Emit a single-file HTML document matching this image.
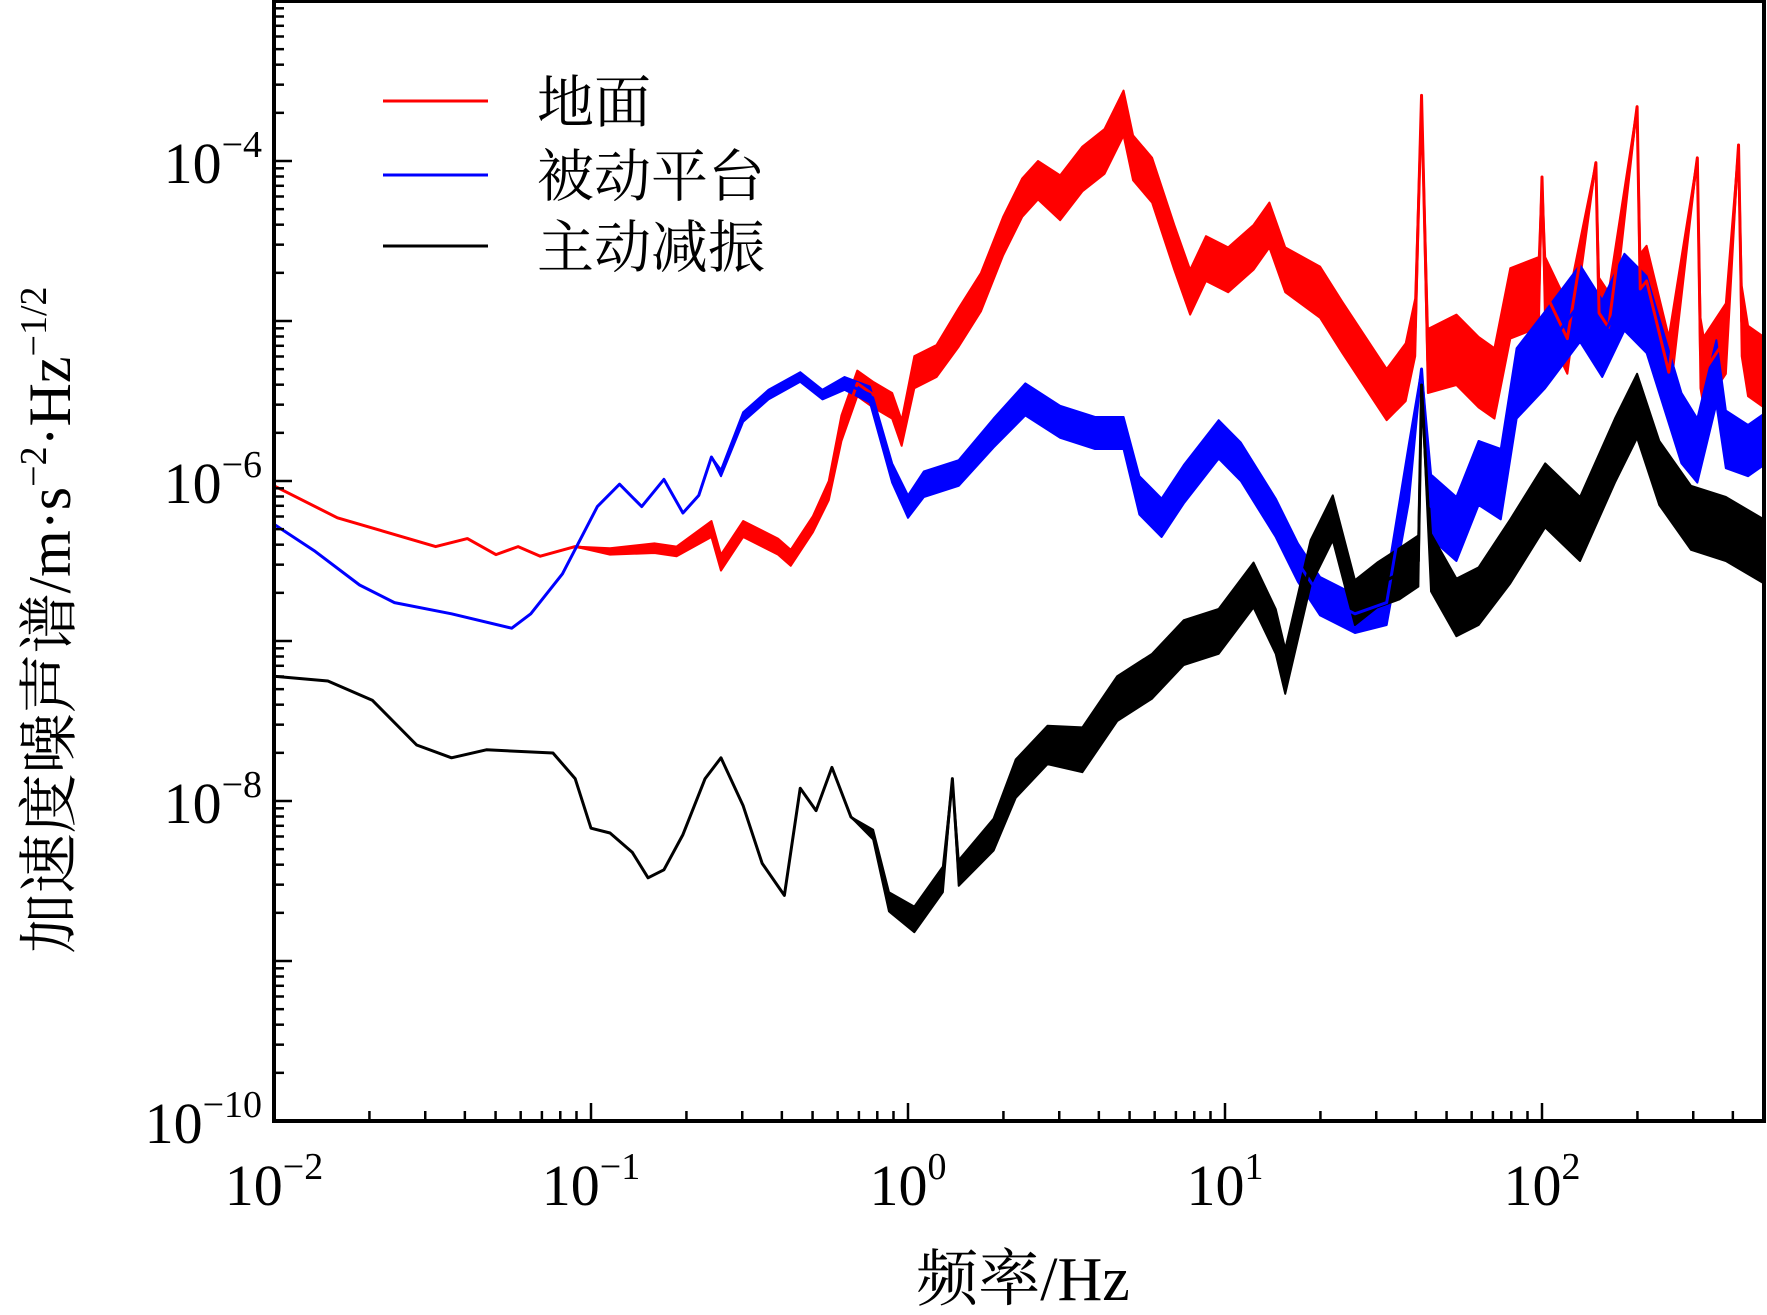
<!DOCTYPE html>
<html><head><meta charset="utf-8"><style>
html,body{margin:0;padding:0;background:#fff;}
svg{display:block;}
text{font-family:"Liberation Serif","Noto Serif CJK SC",serif;fill:#000;}
</style></head><body>
<svg id="chart" width="1767" height="1315" viewBox="0 0 1767 1315" xmlns="http://www.w3.org/2000/svg">
<g id="bands"></g>
<g id="lines"></g>
<g id="axes"></g>
<g id="legend">
  <line x1="383" y1="101" x2="488" y2="101" stroke="#ff0000" stroke-width="3"/>
  <text x="537" y="122" font-size="57">地面</text>
  <line x1="383" y1="175" x2="488" y2="175" stroke="#0000ff" stroke-width="3"/>
  <text x="537" y="196" font-size="57">被动平台</text>
  <line x1="383" y1="246" x2="488" y2="246" stroke="#000" stroke-width="3"/>
  <text x="537" y="267" font-size="57">主动减振</text>
</g>
<text x="1023" y="1300" font-size="62" text-anchor="middle">频率/Hz</text>
<text transform="translate(70,620) rotate(-90)" font-size="60" text-anchor="middle">加速度噪声谱/m·s<tspan font-size="38" dy="-24">−2</tspan><tspan dy="24">·Hz</tspan><tspan font-size="38" dy="-24">−1/2</tspan></text>
</svg>
<script>
// log10 frequency and log10 value arrays
const groundF = [-2,-1.80,-1.49,-1.39,-1.30,-1.23,-1.16,-1.05,-0.94,-0.80,-0.73,-0.62,-0.59,-0.52,-0.41,-0.37,-0.30,-0.25,-0.21,-0.16,-0.11,-0.05,-0.02,0.02,0.09,0.16,0.23,0.30,0.36,0.41,0.48,0.55,0.62,0.68,0.71,0.77,0.84,0.89,0.94,1.01,1.09,1.14,1.19,1.30,1.37,1.44,1.51,1.57,1.60,1.62,1.64,1.73,1.80,1.85,1.90,1.99,2.00,2.01,2.08,2.17,2.18,2.21,2.30,2.31,2.33,2.40,2.49,2.50,2.51,2.58,2.62,2.63,2.65,2.70];
const groundV = [-6.03,-6.23,-6.41,-6.36,-6.46,-6.41,-6.47,-6.41,-6.44,-6.42,-6.44,-6.30,-6.51,-6.30,-6.41,-6.48,-6.27,-6.06,-5.67,-5.39,-5.46,-5.53,-5.70,-5.32,-5.25,-5.04,-4.82,-4.47,-4.23,-4.12,-4.23,-4.05,-3.94,-3.70,-3.98,-4.12,-4.54,-4.82,-4.61,-4.68,-4.54,-4.40,-4.68,-4.82,-5.04,-5.25,-5.46,-5.32,-5.04,-3.59,-5.25,-5.18,-5.32,-5.39,-4.89,-4.82,-4.10,-4.82,-5.11,-4.01,-4.95,-5.04,-3.66,-4.80,-4.75,-5.32,-3.98,-5.20,-5.32,-5.11,-3.90,-5.00,-5.25,-5.32];
const groundBand = [0,0,0,0,0,0,0,0,0.02,0.03,0.03,0.05,0.05,0.05,0.05,0.05,0.05,0.06,0.08,0.08,0.08,0.08,0.08,0.1,0.1,0.12,0.12,0.12,0.12,0.12,0.14,0.14,0.14,0.14,0.14,0.14,0.14,0.14,0.14,0.14,0.14,0.14,0.14,0.16,0.16,0.16,0.16,0.18,0.18,0,0.2,0.22,0.22,0.22,0.22,0.22,0,0.22,0.22,0,0.22,0.22,0,0.22,0.22,0.22,0,0.22,0.22,0.22,0,0.22,0.22,0.22];
const passiveF = [-2,-1.87,-1.73,-1.62,-1.44,-1.25,-1.19,-1.09,-0.98,-0.91,-0.84,-0.77,-0.71,-0.66,-0.62,-0.59,-0.52,-0.44,-0.34,-0.27,-0.20,-0.12,-0.05,0.00,0.05,0.16,0.27,0.37,0.48,0.59,0.68,0.73,0.80,0.87,0.98,1.05,1.16,1.23,1.30,1.41,1.51,1.58,1.62,1.65,1.73,1.80,1.87,1.92,2.01,2.12,2.19,2.26,2.33,2.44,2.49,2.55,2.58,2.65,2.70];
const passiveV = [-6.27,-6.44,-6.65,-6.76,-6.83,-6.92,-6.83,-6.58,-6.16,-6.02,-6.16,-5.99,-6.20,-6.09,-5.85,-5.95,-5.60,-5.46,-5.35,-5.46,-5.39,-5.46,-5.95,-6.16,-6.02,-5.95,-5.70,-5.49,-5.63,-5.70,-5.70,-6.09,-6.23,-6.02,-5.74,-5.88,-6.23,-6.51,-6.72,-6.83,-6.76,-5.95,-5.30,-6.16,-6.30,-5.95,-6.02,-5.39,-5.18,-4.89,-5.11,-4.82,-4.96,-5.67,-5.81,-5.32,-5.74,-5.81,-5.74];
const passiveBand = [0,0,0,0,0,0,0,0,0,0,0,0,0,0,0,0.02,0.03,0.03,0.03,0.03,0.04,0.05,0.06,0.07,0.08,0.08,0.09,0.1,0.1,0.1,0.1,0.12,0.12,0.12,0.12,0.12,0.12,0.12,0.12,0.12,0.14,0.18,0,0.2,0.2,0.2,0.22,0.22,0.24,0.24,0.24,0.24,0.24,0.22,0.2,0.2,0.18,0.16,0.16];
const activeF = [-2,-1.83,-1.69,-1.55,-1.44,-1.33,-1.12,-1.05,-1.00,-0.94,-0.87,-0.82,-0.77,-0.71,-0.64,-0.59,-0.52,-0.46,-0.39,-0.34,-0.29,-0.24,-0.18,-0.11,-0.06,0.02,0.11,0.14,0.16,0.27,0.34,0.44,0.55,0.66,0.77,0.87,0.98,1.09,1.16,1.19,1.27,1.34,1.41,1.48,1.55,1.61,1.62,1.65,1.73,1.80,1.90,2.01,2.12,2.23,2.30,2.37,2.47,2.58,2.70];
const activeV = [-7.22,-7.25,-7.37,-7.65,-7.73,-7.68,-7.70,-7.86,-8.17,-8.20,-8.32,-8.48,-8.43,-8.21,-7.86,-7.73,-8.03,-8.39,-8.59,-7.92,-8.06,-7.79,-8.10,-8.21,-8.63,-8.74,-8.49,-7.86,-8.45,-8.21,-7.86,-7.65,-7.68,-7.36,-7.22,-7.01,-6.94,-6.65,-6.94,-7.19,-6.51,-6.23,-6.76,-6.65,-6.58,-6.50,-5.40,-6.51,-6.79,-6.72,-6.44,-6.09,-6.30,-5.81,-5.53,-5.95,-6.23,-6.30,-6.44];
const activeBand = [0,0,0,0,0,0,0,0,0,0,0,0,0,0,0,0,0,0,0,0,0,0,0,0.03,0.06,0.08,0.08,0,0.08,0.1,0.12,0.12,0.14,0.14,0.14,0.14,0.14,0.14,0.14,0.14,0.14,0.14,0.14,0.14,0.16,0.16,0,0.18,0.18,0.18,0.2,0.2,0.2,0.2,0.2,0.2,0.2,0.2,0.2];
const xTickExp = [-2,-1,0,1,2];
const xTickSup = ["−2","−1","0","1","2"];
const yTickExp = [-4,-6,-8,-10];
const yTickSup = ["−4","−6","−8","−10"];

const X0=274, X1=1764, Y0=1, Y1=1121;
function xs(lf){return 274+(lf+2)*317;}
function ys(lv){return 161+(-4-lv)*160;}
const NS="http://www.w3.org/2000/svg";
function mk(tag,attrs,parent){const e=document.createElementNS(NS,tag);for(const k in attrs)e.setAttribute(k,attrs[k]);parent.appendChild(e);return e;}

const bands=document.getElementById('bands'), lines=document.getElementById('lines'), axes=document.getElementById('axes');
function series(F,V,B,color,name){
  let up=[],lo=[];
  for(let i=0;i<F.length;i++){up.push(xs(F[i])+','+ys(V[i]+B[i]));lo.unshift(xs(F[i])+','+ys(V[i]-B[i]));}
  const poly=mk('polygon',{points:up.concat(lo).join(' '),fill:color,stroke:color,'stroke-width':2,'stroke-linejoin':'round'},bands);
  
  
  const pts=F.map((f,i)=>xs(f)+','+ys(V[i])).join(' ');
  const pl=mk('polyline',{points:pts,fill:'none',stroke:color,'stroke-width':3,'stroke-linejoin':'round'},lines);
  
  
}
series(groundF,groundV,groundBand,'#ff0000','ground');
series(passiveF,passiveV,passiveBand,'#0000ff','passive-platform');
series(activeF,activeV,activeBand,'#000000','active-isolation');

const fr=mk('rect',{x:X0,y:Y0,width:X1-X0,height:Y1-Y0,fill:'none',stroke:'#000','stroke-width':4},axes);


for(let d=-2;d<=2;d++){for(let m=1;m<=9;m++){const lf=d+Math.log10(m);const x=xs(lf);if(x>X1)continue;
  const t=mk('line',{x1:x,y1:Y1,x2:x,y2:Y1-(m===1?18:10),stroke:'#000','stroke-width':2.5},axes);
  
  }}
xTickExp.forEach((e,i)=>{const t=mk('text',{x:xs(e),y:1205,'font-size':58,'text-anchor':'middle'},axes);
  t.innerHTML="10<tspan font-size='38' dy='-26'>"+xTickSup[i]+"</tspan>";
  
  });
for(let d=-10;d<=-4;d++){for(let m=1;m<=9;m++){const lv=d+Math.log10(m);const y=ys(lv);if(y<Y0)continue;
  const t=mk('line',{x1:X0,y1:y,x2:X0+(m===1?18:10),y2:y,stroke:'#000','stroke-width':2.5},axes);
  
  }}
yTickExp.forEach((e,i)=>{const t=mk('text',{x:262,y:ys(e)+22,'font-size':58,'text-anchor':'end'},axes);
  t.innerHTML="10<tspan font-size='38' dy='-26'>"+yTickSup[i]+"</tspan>";
  
  });
</script>
</body></html>
